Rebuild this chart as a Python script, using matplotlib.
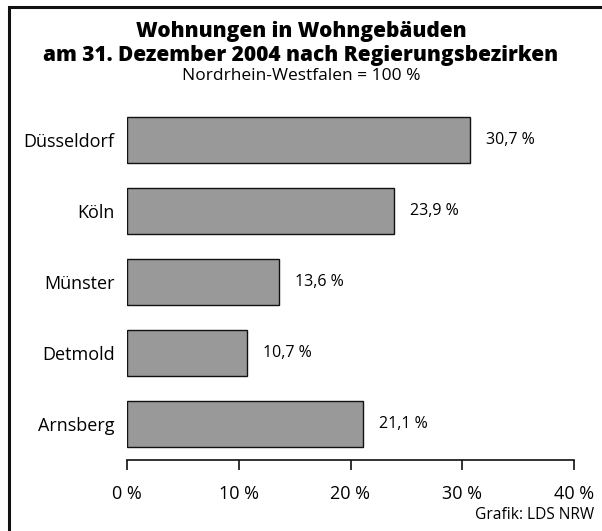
import matplotlib
matplotlib.use("Agg")
import matplotlib.pyplot as plt
from matplotlib.patches import Rectangle

categories = ["Düsseldorf", "Köln", "Münster", "Detmold", "Arnsberg"]
values = [30.7, 23.9, 13.6, 10.7, 21.1]
value_labels = ["30,7 %", "23,9 %", "13,6 %", "10,7 %", "21,1 %"]
xticks = [0, 10, 20, 30, 40]
xtick_labels = ["0 %", "10 %", "20 %", "30 %", "40 %"]

plt.rcParams['font.family'] = ['Open Sans', 'DejaVu Sans']

W, H = 602, 531
fig = plt.figure(figsize=(W / 100, H / 100), dpi=100)

def fx(px):
    return px / W

def fy(py):
    return 1 - py / H

# frame
fig.patches.append(Rectangle((fx(8.5), fy(H + 10)), fx(W + 10), fy(6.5) - fy(H + 10),
                             transform=fig.transFigure, fill=False,
                             edgecolor="#111111", linewidth=2.2))

ax = fig.add_axes([fx(127), fy(460), fx(574) - fx(127), fy(97.4) - fy(460)])
pos = list(range(len(categories)))
ax.barh(pos, values, height=0.66, color="#999999", edgecolor="#111111", linewidth=1.0)
ax.set_ylim(4.507, -0.6)
ax.set_xlim(0, 40)

for p, v, lab in zip(pos, values, value_labels):
    ax.annotate(lab, (v, p), xytext=(16, 0), textcoords="offset pixels",
                va="center", ha="left", fontsize=11.5)

ax.set_yticks(pos)
ax.set_yticklabels(categories, fontsize=13)
ax.tick_params(axis="y", length=0, pad=9)
ax.set_xticks(xticks)
ax.set_xticklabels(xtick_labels, fontsize=13)
ax.tick_params(axis="x", length=7, width=1.2, direction="out", pad=11, color="#111111")
for s in ["top", "right", "left"]:
    ax.spines[s].set_visible(False)
ax.spines["bottom"].set_linewidth(1.2)
ax.spines["bottom"].set_color("#111111")

title_font = ['Open Sans', 'DejaVu Sans']
fig.text(0.5, fy(32), "Wohnungen in Wohngebäuden", ha="center", va="center",
         fontsize=15, fontweight=800, family=title_font)
fig.text(0.5, fy(55), "am 31. Dezember 2004 nach Regierungsbezirken", ha="center", va="center",
         fontsize=15, fontweight=800, family=title_font)
fig.text(0.5, fy(75.5), "Nordrhein-Westfalen = 100 %", ha="center", va="center", fontsize=12.5)
fig.text(fx(594), fy(515), "Grafik: LDS NRW", ha="right", va="center", fontsize=11.2)

fig.savefig("out.png", dpi=100)
